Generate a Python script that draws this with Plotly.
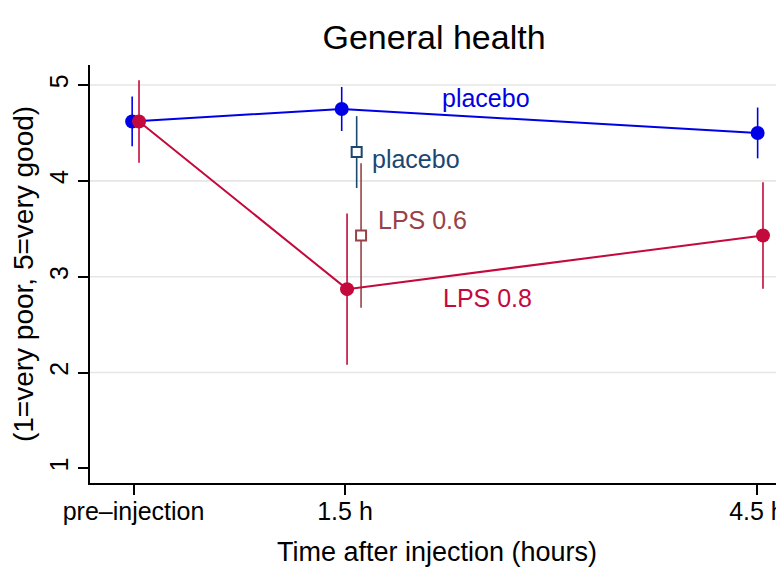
import plotly.graph_objects as go

# ---- data ----
tick_pos = [-0.04, 1.5, 4.5]
tick_text = ["pre\u2013injection", "1.5 h", "4.5 h"]

placebo_x = [-0.05, 1.476, 4.505]
placebo_y = [4.62, 4.75, 4.50]
placebo_err = [0.26, 0.23, 0.265]

lps08_x = [0.0, 1.515, 4.544]
lps08_y = [4.62, 2.87, 3.43]
lps08_err = [0.43, 0.79, 0.555]

sq_placebo_x = [1.585]
sq_placebo_y = [4.30]
sq_placebo_err = [0.375]

sq_lps06_x = [1.617]
sq_lps06_y = [3.43]
sq_lps06_err = [0.755]

y_ticks = [1, 2, 3, 4, 5]
grid_vals = [2, 3, 4, 5]

BLUE = "#0000E6"
CRAN = "#C4093D"
NAVY = "#1A476F"
MAROON = "#974247"
FONT = "Liberation Sans, Arial, Helvetica, sans-serif"

fig = go.Figure()

# grid lines (Stata style, none at the axis minimum)
for g in grid_vals:
    fig.add_shape(type="line", xref="paper", x0=0, x1=0.993, yref="y", y0=g, y1=g,
                  line=dict(color="#E6E6E6", width=1.6), layer="below")

def series(x, y, err, color, mode, symbol, size, fill, lw=2):
    fig.add_trace(go.Scatter(
        x=x, y=y, mode=mode,
        line=dict(color=color, width=2),
        marker=dict(symbol=symbol, size=size, color=fill, line=dict(color=color, width=lw)),
        error_y=dict(type="data", array=err, visible=True, color=color, thickness=1.6, width=0),
        showlegend=False, hoverinfo="skip"))

series(sq_placebo_x, sq_placebo_y, sq_placebo_err, NAVY, "markers", "square", 10, "white")
series(sq_lps06_x, sq_lps06_y, sq_lps06_err, MAROON, "markers", "square", 10, "white")
series(placebo_x, placebo_y, placebo_err, BLUE, "lines+markers", "circle", 14, BLUE, 0)
series(lps08_x, lps08_y, lps08_err, CRAN, "lines+markers", "circle", 14, CRAN, 0)

labels = [
    (2.19, 4.864, "placebo", BLUE),
    (1.682, 4.228, "placebo", NAVY),
    (1.726, 3.59, "LPS 0.6", MAROON),
    (2.199, 2.777, "LPS 0.8", CRAN),
]
for lx, ly, txt, col in labels:
    fig.add_annotation(x=lx, y=ly, text=txt, showarrow=False, xanchor="left", yanchor="middle",
                       font=dict(family=FONT, size=25, color=col))

fig.update_layout(
    width=776, height=564,
    margin=dict(l=82, r=0, t=57, b=89),
    paper_bgcolor="white", plot_bgcolor="white",
    font=dict(family=FONT, color="black"),
    title=dict(text="General health", x=0.549, xanchor="center", y=0.948, yanchor="middle",
               automargin=False, font=dict(family=FONT, size=34, color="black")),
    xaxis=dict(range=[-0.357, 4.697], tickmode="array", tickvals=tick_pos, ticktext=tick_text,
               automargin=False, ticklabeloverflow="allow",
               showgrid=False, zeroline=False, showline=True, linecolor="black", linewidth=1.5,
               ticks="outside", ticklen=10, tickwidth=1.5, tickcolor="black", ticklabelstandoff=-5,
               tickfont=dict(family=FONT, size=25, color="black"),
               title=dict(text="Time after injection (hours)", font=dict(family=FONT, size=27, color="black"),
                          standoff=18)),
    yaxis=dict(range=[0.847, 5.209], tickmode="array", tickvals=y_ticks,
               automargin=False,
               showgrid=False, zeroline=False, showline=True, linecolor="black", linewidth=1.5,
               ticks="outside", ticklen=10, tickwidth=1.5, tickcolor="black", tickangle=-90,
               tickfont=dict(family=FONT, size=25, color="black"),
               title=dict(text="(1=very poor, 5=very good)", font=dict(family=FONT, size=28, color="black"),
                          standoff=22)),
)

fig.write_html("out.html")
